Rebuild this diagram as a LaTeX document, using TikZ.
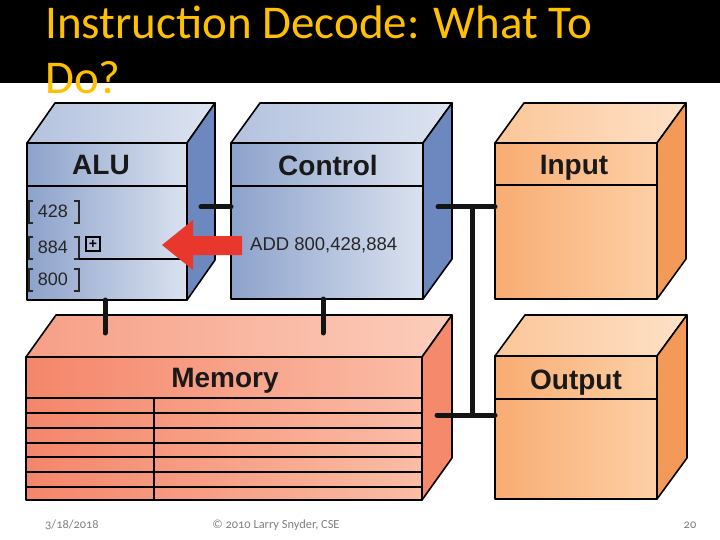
\documentclass[tikz,border=0pt]{standalone}
\usepackage{fontspec}
\setmainfont{Carlito}
\newfontfamily\hd{Liberation Sans}
\usetikzlibrary{calc}
\definecolor{titleyellow}{HTML}{FFC000}
\definecolor{blL}{HTML}{8DA2CB}
\definecolor{blR}{HTML}{DAE2EF}
\definecolor{blTL}{HTML}{B3C2DE}
\definecolor{blTR}{HTML}{DDE4F1}
\definecolor{blS}{HTML}{6D88BE}
\definecolor{orL}{HTML}{F8AC72}
\definecolor{orR}{HTML}{FDD0A6}
\definecolor{orTL}{HTML}{FCC698}
\definecolor{orTR}{HTML}{FDE1C7}
\definecolor{orS}{HTML}{F39A58}
\definecolor{rdL}{HTML}{F4866A}
\definecolor{rdR}{HTML}{FBBCA6}
\definecolor{rdTL}{HTML}{F69F86}
\definecolor{rdTR}{HTML}{FCCDBB}
\definecolor{rdS}{HTML}{F4896C}
\definecolor{arrowred}{HTML}{E8382E}
\definecolor{footgray}{HTML}{7F7F7F}
\newcommand\drawcube[9]{%
  \node[face,inner sep=0,outer sep=0,left color=#8L,right color=#8R,
        minimum width={(#4-#2)*1pt},minimum height={(#5-#3)*1pt}]
        (#1) at ({(#2+#4)/2},{(#3+#5)/2}) {};
  \shade[face,left color=#8TL,right color=#8TR]
     (#1.north west) -- ++(#6,-#7) -- ($(#1.north east)+(#6,-#7)$) -- (#1.north east) -- cycle;
  \fill[face,fill=#8S]
     (#1.north east) -- ++(#6,-#7) -- ($(#1.south east)+(#6,-#7)$) -- (#1.south east) -- cycle;
  \draw[face] (#1.west |- 0,#9) -- (#1.east |- 0,#9);
}
\begin{document}
\begin{tikzpicture}[x=1pt,y=-1pt,
  face/.style={draw=black,line width=1.6pt,line join=round},
  bus/.style={line width=5pt,draw=black!92,line cap=round},
  hdr/.style={font=\hd\bfseries\fontsize{28}{28}\selectfont,text=black!90,inner sep=0,anchor=base},
  reg/.style={font=\hd\fontsize{18}{18}\selectfont,text=black!85,inner sep=0,anchor=base},
  brk/.style={line width=2pt,draw=black!85},
  ttl/.style={anchor=base west,text=titleyellow,font=\fontsize{47}{47}\selectfont,inner sep=0},
  foot/.style={font=\fontsize{12.4}{12.4}\selectfont\addfontfeatures{Numbers=OldStyle},text=footgray,anchor=base,inner sep=0}]
\useasboundingbox (0,0) rectangle (720,540);
\fill[black] (0,0) rectangle (720,83);
\node[ttl] (title1) at (45,39) {Instruction Decode: What To};
\node[ttl] (title2) at (45,94) {Do?};

% ALU
\drawcube{alu}{27}{143}{187}{300}{28}{40}{bl}{186}
\node[hdr] (alul) at (101,175) {ALU};
\foreach \n/\yc in {428/211,884/247,800/279}{
  \draw[brk] (33,\yc-10) -- (28.5,\yc-10) -- (28.5,\yc+12) -- (33,\yc+12);
  \draw[brk] (74,\yc-10) -- (78.5,\yc-10) -- (78.5,\yc+12) -- (74,\yc+12);
  \node[reg] (r\n) at (53,\yc+6.5) {\n};
}
\draw[line width=1.6pt] (78.5,259) -- (alu.east |- 0,259);
\node[draw=black,line width=1.4pt,minimum size=14pt,inner sep=0,
      font=\hd\bfseries\fontsize{14}{14}\selectfont] (plus) at (93,244) {+};

% Control
\drawcube{ctrl}{231}{143}{423}{299}{29}{40}{bl}{186}
\node[hdr] (ctrll) at (328,176) {Control};
\node[reg,anchor=base west,font=\hd\fontsize{18.5}{18.5}\selectfont] (add) at (250,250) {ADD 800,428,884};
\fill[arrowred] (162,245) -- (193,220) -- (193,236) -- (242,236) -- (242,255) -- (193,255) -- (193,270) -- cycle;

% Input
\drawcube{inp}{495}{143}{657}{299}{29}{40}{or}{185}
\node[hdr] (inpl) at (574,175) {Input};

% Memory
\drawcube{mem}{26}{357}{422}{500}{30}{42}{rd}{398}
\node[hdr] (meml) at (225,387) {Memory};
\foreach \y in {413,428,443,457,472,487}
  \draw[face] (mem.west |- 0,\y) -- (mem.east |- 0,\y);
\coordinate (dv) at (154,398);
\draw[face] (dv) -- (dv |- mem.south);

% Output
\drawcube{outp}{495}{356}{657}{499}{30}{41}{or}{399}
\node[hdr] (outl) at (576,389) {Output};

% buses
\coordinate (a1) at (201,207);
\draw[bus] (a1) -- (a1 -| ctrl.west);
\coordinate (c1) at (438,207);
\draw[bus] (c1) -- (c1 -| inp.west);
\coordinate (j1) at (472,207);
\coordinate (m1) at (437,415);
\coordinate (j2) at (472,415);
\draw[bus] (j1) -- (j2);
\draw[bus] (m1) -- (m1 -| outp.west);
\coordinate (m2) at (105,333);
\draw[bus] (m2) -- (m2 |- alu.south);
\coordinate (m3) at (323,333);
\draw[bus] (m3) -- (m3 |- ctrl.south);

% footer
\node[foot,anchor=base west] (date) at (45,528) {3/18/2018};
\node[foot] (copy) at (276,528) {© 2010 Larry Snyder, CSE};
\node[foot] (page) at (690,528) {20};
\end{tikzpicture}
\end{document}
